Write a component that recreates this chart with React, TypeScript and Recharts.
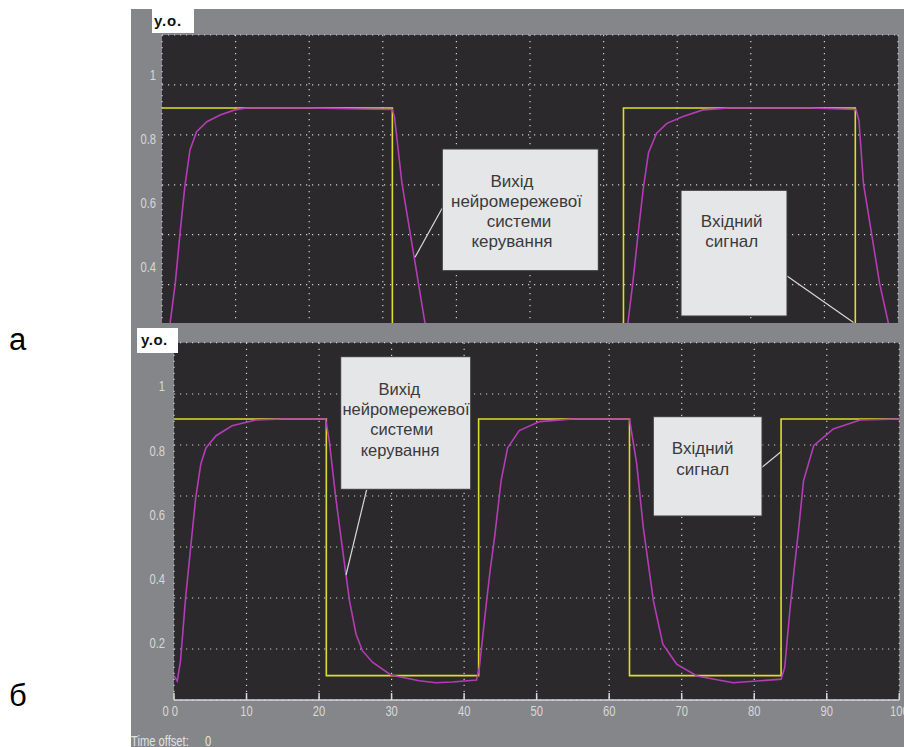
import React from "react";
import { LineChart, Line, XAxis, YAxis, CartesianGrid } from "recharts";

const FONT = "'Liberation Sans', Arial, Helvetica, sans-serif";
const PANEL_GRAY = "#858689";
const PLOT_BG = "#2b292c";
const INPUT_COLOR = "#dede2a";
const OUTPUT_COLOR = "#b43cb6";
const AXIS_COLOR = "#d8d8d8";
const GRID_COLOR = "#d0d0d0";

// ---------- data ----------
const timeTicks = [0, 10, 20, 30, 40, 50, 60, 70, 80, 90, 100];
const valueLabels = [0.2, 0.4, 0.6, 0.8, 1];

// panel a (top)
const topDomain: [number, number] = [0.036, 1.128];
const topGridValues = [0.192, 0.348, 0.504, 0.66, 0.816, 0.972];
const topInputT = [0, 31.3, 62.7, 94.2, 100];
const topInputV = [0.9, 0.1, 0.9, 0.1, 0.1];
const topOutputT = [0, 0.5, 1.1, 1.8, 2.45, 3.1, 3.8, 4.7, 6.1, 7.9, 9.9, 11.5, 20, 27, 31.3, 31.6, 32.6, 34.1, 35.7, 37.0, 38.5, 40.5, 44, 50, 56, 62.7, 63.3, 64.0, 64.7, 65.4, 66.1, 67.2, 68.6, 70.8, 73.5, 77, 88, 94.3, 94.7, 95.3, 97.5, 98.7, 100];
const topOutputV = [0.1, 0.09, 0.227, 0.352, 0.508, 0.654, 0.769, 0.826, 0.857, 0.878, 0.894, 0.9, 0.9, 0.897, 0.895, 0.87, 0.665, 0.456, 0.232, 0.17, 0.13, 0.105, 0.088, 0.08, 0.08, 0.085, 0.228, 0.36, 0.51, 0.65, 0.76, 0.821, 0.852, 0.873, 0.894, 0.9, 0.9, 0.895, 0.86, 0.665, 0.352, 0.227, 0.12];

// panel б (bottom)
const bottomDomain: [number, number] = [0.024, 1.138];
const bottomGridValues = [0.183, 0.342, 0.501, 0.66, 0.819, 0.978];
const bottomInputT = [0, 21, 42, 62.8, 83.7, 100];
const bottomInputV = [0.9, 0.1, 0.9, 0.1, 0.9, 0.9];
const bottomOutputT = [0, 0.45, 0.9, 1.6, 2.3, 3.0, 3.7, 4.4, 5.8, 8.0, 11.3, 15, 20.9, 21.4, 22.3, 23.2, 24.2, 25.1, 26.0, 27.4, 29.9, 33.8, 36.1, 38.4, 41.7, 42.1, 42.6, 43.1, 43.6, 44.2, 45.1, 46.0, 47.6, 50.4, 55, 62.8, 63.8, 64.7, 66.1, 67.4, 69.3, 72.1, 77.1, 80.8, 83.7, 84.2, 84.9, 85.5, 86.1, 86.8, 88.2, 90.9, 94.6, 100];
const bottomOutputV = [0.1, 0.083, 0.146, 0.343, 0.5, 0.656, 0.76, 0.81, 0.848, 0.879, 0.897, 0.9, 0.9, 0.833, 0.656, 0.5, 0.333, 0.229, 0.177, 0.141, 0.102, 0.084, 0.078, 0.08, 0.086, 0.125, 0.229, 0.333, 0.43, 0.531, 0.708, 0.81, 0.864, 0.892, 0.9, 0.9, 0.76, 0.562, 0.333, 0.198, 0.136, 0.099, 0.078, 0.084, 0.089, 0.125, 0.3, 0.43, 0.552, 0.708, 0.817, 0.869, 0.897, 0.9];

const zip = (ts: number[], vs: number[]) => ts.map((t, i) => ({ t, v: vs[i] }));

// ---------- tick renderers ----------
const NarrowText = ({ x, y, anchor, children }: any) => (
  <text
    x={0}
    y={0}
    transform={`translate(${x},${y}) scale(0.8,1)`}
    textAnchor={anchor}
    dominantBaseline="central"
    fill={AXIS_COLOR}
    fontSize={14}
    fontFamily={FONT}
  >
    {children}
  </text>
);

const LeftMark = (p: any) => <line x1={p.x} x2={p.x + 7} y1={p.y} y2={p.y} stroke={AXIS_COLOR} strokeWidth={1.5} />;
const RightMark = (p: any) => <line x1={p.x} x2={p.x - 7} y1={p.y} y2={p.y} stroke={AXIS_COLOR} strokeWidth={1.5} />;
const TopMark = (p: any) => <line x1={p.x} x2={p.x} y1={p.y} y2={p.y + 7} stroke={AXIS_COLOR} strokeWidth={1.5} />;
const BottomMark = (p: any) => <line x1={p.x} x2={p.x} y1={p.y} y2={p.y - 7} stroke={AXIS_COLOR} strokeWidth={1.5} />;
const BottomLabelTick = (p: any) => {
  const v = p.payload.value;
  return (
    <g>
      <line x1={p.x} x2={p.x} y1={p.y} y2={p.y - 7} stroke={AXIS_COLOR} strokeWidth={1.5} />
      {v === 0 ? (
        <NarrowText x={p.x + 4} y={p.y + 12} anchor="end">0 0</NarrowText>
      ) : (
        <NarrowText x={p.x} y={p.y + 12} anchor="middle">{String(v)}</NarrowText>
      )}
    </g>
  );
};
const YLabelTick = (p: any) => <NarrowText x={p.x} y={p.y} anchor="end">{String(p.payload.value)}</NarrowText>;

type PanelProps = {
  width: number;
  height: number;
  margin: { top: number; right: number; bottom: number; left: number };
  labelWidth: number;
  labelGap: number;
  domain: [number, number];
  gridValues: number[];
  input: { t: number; v: number }[];
  output: { t: number; v: number }[];
  timeLabels: boolean;
  xAxisHeight: number;
};

const Panel = (pr: PanelProps) => (
  <LineChart width={pr.width} height={pr.height} margin={pr.margin}>
    <CartesianGrid
      fill={PLOT_BG}
      stroke={GRID_COLOR}
      strokeDasharray="1.2 4.8"
      strokeWidth={1.2}
    />
    <YAxis
      yAxisId={0}
      type="number"
      domain={pr.domain}
      allowDataOverflow
      ticks={pr.gridValues}
      interval={0}
      width={0}
      tickSize={0}
      tickMargin={0}
      tickLine={false}
      axisLine={{ stroke: AXIS_COLOR, strokeWidth: 1.5 }}
      tick={<LeftMark />}
    />
    <YAxis
      yAxisId="lab"
      type="number"
      domain={pr.domain}
      allowDataOverflow
      ticks={valueLabels}
      interval={0}
      width={pr.labelWidth}
      tickSize={0}
      tickMargin={pr.labelGap}
      tickLine={false}
      axisLine={false}
      tick={<YLabelTick />}
    />
    <YAxis
      yAxisId="r"
      orientation="right"
      type="number"
      domain={pr.domain}
      allowDataOverflow
      ticks={pr.gridValues}
      interval={0}
      width={0}
      tickSize={0}
      tickMargin={0}
      tickLine={false}
      axisLine={{ stroke: AXIS_COLOR, strokeWidth: 1.5 }}
      tick={<RightMark />}
    />
    <XAxis
      xAxisId={0}
      dataKey="t"
      type="number"
      domain={[0, 100]}
      allowDataOverflow
      ticks={timeTicks}
      interval={0}
      height={pr.xAxisHeight}
      tickSize={0}
      tickMargin={0}
      tickLine={false}
      axisLine={{ stroke: AXIS_COLOR, strokeWidth: 1.5 }}
      tick={pr.timeLabels ? <BottomLabelTick /> : <BottomMark />}
    />
    <XAxis
      xAxisId="t"
      orientation="top"
      dataKey="t"
      type="number"
      domain={[0, 100]}
      allowDataOverflow
      ticks={timeTicks}
      interval={0}
      height={0}
      tickSize={0}
      tickMargin={0}
      tickLine={false}
      axisLine={{ stroke: AXIS_COLOR, strokeWidth: 1.5 }}
      tick={<TopMark />}
    />
    <Line
      xAxisId={0}
      yAxisId={0}
      data={pr.input}
      dataKey="v"
      type="stepAfter"
      stroke={INPUT_COLOR}
      strokeWidth={1.6}
      dot={false}
      isAnimationActive={false}
    />
    <Line
      xAxisId="t"
      yAxisId="r"
      data={pr.output}
      dataKey="v"
      type="linear"
      stroke={OUTPUT_COLOR}
      strokeWidth={1.6}
      dot={false}
      isAnimationActive={false}
    />
  </LineChart>
);

const boxStyle = { fill: "#e5e6e8", stroke: "#3a3a3a", strokeWidth: 1 };
const BoxText = ({ x, y, size, children }: any) => (
  <text x={x} y={y} textAnchor="middle" dominantBaseline="central" fontSize={size} fontFamily={FONT} fill="#3a3a3a">
    {children}
  </text>
);

export default function App() {
  return (
    <div style={{ position: "absolute", left: 0, top: 0, width: 904, height: 747, background: "#ffffff", overflow: "hidden" }}>
      {/* panel a */}
      <div style={{ position: "absolute", left: 131, top: 9, width: 773, height: 314, background: PANEL_GRAY, overflow: "hidden" }}>
        <Panel
          width={773}
          height={380}
          margin={{ top: 26, right: 6, bottom: 4.5, left: 0 }}
          labelWidth={31}
          labelGap={6}
          domain={topDomain}
          gridValues={topGridValues}
          input={zip(topInputT, topInputV)}
          output={zip(topOutputT, topOutputV)}
          timeLabels={false}
          xAxisHeight={0}
        />
      </div>
      {/* panel б */}
      <div style={{ position: "absolute", left: 131, top: 323, width: 773, height: 424, background: PANEL_GRAY, overflow: "hidden" }}>
        <Panel
          width={773}
          height={424}
          margin={{ top: 19.7, right: 4.7, bottom: 0, left: 0 }}
          labelWidth={43}
          labelGap={9}
          domain={bottomDomain}
          gridValues={bottomGridValues}
          input={zip(bottomInputT, bottomInputV)}
          output={zip(bottomOutputT, bottomOutputV)}
          timeLabels={true}
          xAxisHeight={47}
        />
      </div>
      {/* annotations */}
      <svg width={904} height={747} style={{ position: "absolute", left: 0, top: 0, pointerEvents: "none" }}>
        <text x={9} y={350} fontSize={31} fontFamily={FONT} fill="#000">а</text>
        <text x={9} y={706} fontSize={31} fontFamily={FONT} fill="#000">б</text>

        <rect x={152} y={9} width={42} height={24} fill="#ffffff" />
        <text x={154} y={26} fontSize={15} fontWeight="bold" letterSpacing={0.8} fontFamily={FONT} fill="#111">y.o.</text>
        <rect x={137} y={328} width={41} height={25} fill="#ffffff" />
        <text x={141} y={345} fontSize={15} fontWeight="bold" letterSpacing={0.5} fontFamily={FONT} fill="#111">y.o.</text>

        {/* top panel notes */}
        <line x1={442.3} y1={208} x2={415} y2={257.3} stroke="#d8d8d8" strokeWidth={1.2} />
        <rect x={442.3} y={149} width={156} height={121.7} {...boxStyle} />
        <BoxText x={512} y={181} size={17}>Вихід</BoxText>
        <BoxText x={516.5} y={201.5} size={17}>нейромережевої</BoxText>
        <BoxText x={519} y={221.5} size={17}>системи</BoxText>
        <BoxText x={512} y={241.5} size={17}>керування</BoxText>

        <line x1={787} y1={276} x2={853.5} y2={322.5} stroke="#d8d8d8" strokeWidth={1.2} />
        <rect x={681} y={190.3} width={106} height={125.7} {...boxStyle} />
        <BoxText x={731.7} y={221} size={17}>Вхідний</BoxText>
        <BoxText x={731.7} y={241.7} size={17}>сигнал</BoxText>

        {/* bottom panel notes */}
        <line x1={366.7} y1={489.3} x2={346} y2={575} stroke="#d8d8d8" strokeWidth={1.2} />
        <rect x={340.7} y={356.7} width={130} height={132.6} {...boxStyle} />
        <BoxText x={399.3} y={389.3} size={16.5}>Вихід</BoxText>
        <BoxText x={406} y={409.3} size={16.5}>нейромережевої</BoxText>
        <BoxText x={401.7} y={429.3} size={16.5}>системи</BoxText>
        <BoxText x={400} y={450.3} size={16.5}>керування</BoxText>

        <line x1={762} y1={467.3} x2={781} y2={451.7} stroke="#d8d8d8" strokeWidth={1.2} />
        <rect x={653.3} y={416.7} width={108.7} height={99.3} {...boxStyle} />
        <BoxText x={702.7} y={448.3} size={17}>Вхідний</BoxText>
        <BoxText x={702.7} y={469.3} size={17}>сигнал</BoxText>

        <text transform="translate(131,746) scale(0.8,1)" fontSize={14} fontFamily={FONT} fill="#e2e2e2">Time offset:</text>
        <text transform="translate(205,746) scale(0.8,1)" fontSize={14} fontFamily={FONT} fill="#e2e2e2">0</text>
      </svg>
    </div>
  );
}
